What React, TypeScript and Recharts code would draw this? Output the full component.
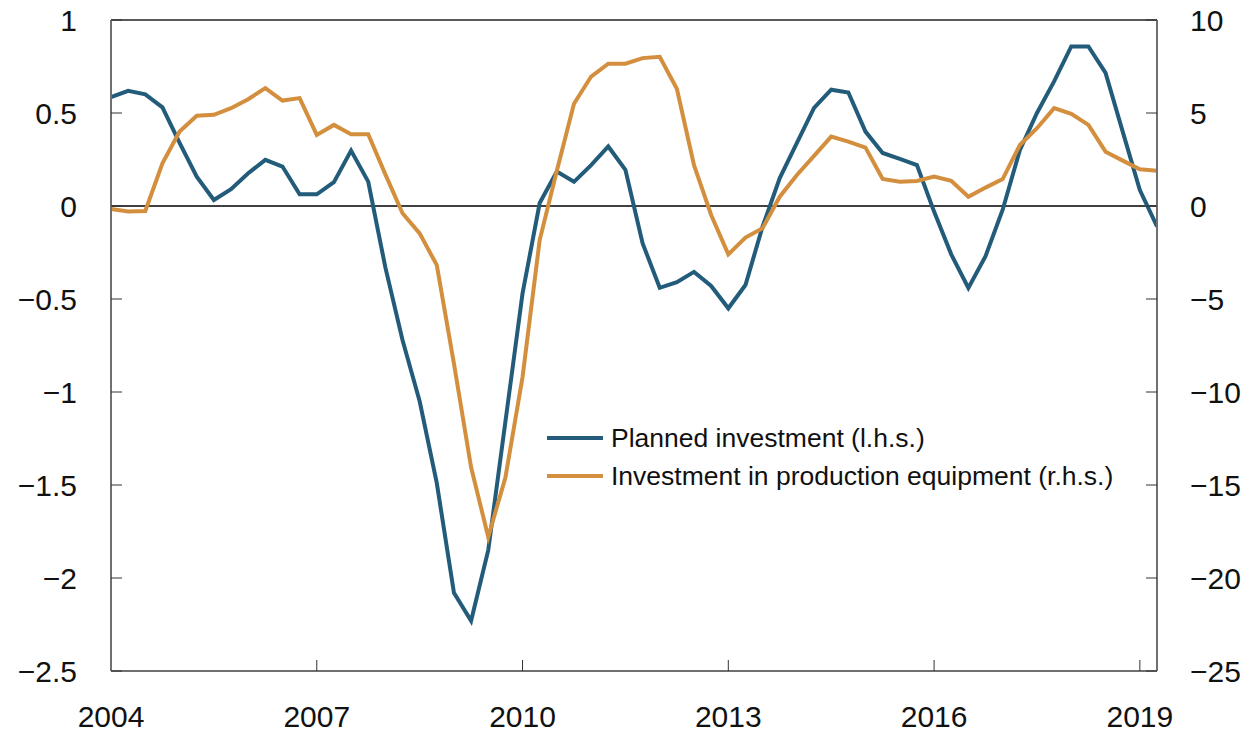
import { LineChart, Line, XAxis, YAxis, ReferenceLine, Legend } from "recharts";

// quarterly, 2004Q1 - 2019Q2
const START_YEAR = 2004;

const planned = [
  0.585, 0.619, 0.6, 0.53, 0.34, 0.158, 0.032, 0.09, 0.176, 0.248, 0.212, 0.063,
  0.063, 0.128, 0.298, 0.131, -0.33, -0.72, -1.05, -1.49, -2.08, -2.23, -1.85, -1.16,
  -0.47, 0.016, 0.185, 0.13, 0.22, 0.32, 0.194, -0.2, -0.44, -0.41, -0.354, -0.43,
  -0.55, -0.425, -0.11, 0.15, 0.34, 0.527, 0.625, 0.61, 0.4, 0.285, 0.253, 0.22,
  -0.03, -0.26, -0.44, -0.27, -0.02, 0.3, 0.5, 0.67, 0.858, 0.858, 0.716, 0.4,
  0.086, -0.11,
];

const equipment = [
  -0.16, -0.3, -0.27, 2.3, 4.0, 4.85, 4.9, 5.26, 5.74, 6.34, 5.67, 5.8,
  3.82, 4.36, 3.86, 3.86, 1.7, -0.39, -1.47, -3.18, -8.47, -14.05, -17.8, -14.6,
  -9.2, -1.83, 1.9, 5.5, 6.96, 7.65, 7.65, 7.95, 8.02, 6.3, 2.2, -0.48,
  -2.6, -1.7, -1.19, 0.5, 1.67, 2.69, 3.73, 3.46, 3.14, 1.45, 1.31, 1.35,
  1.58, 1.36, 0.5, 0.99, 1.45, 3.28, 4.18, 5.26, 4.95, 4.36, 2.92, 2.44,
  1.98, 1.9,
];

const seriesNames = [
  "Planned investment (l.h.s.)",
  "Investment in production equipment (r.h.s.)",
];

const yearTicks = [2004, 2007, 2010, 2013, 2016, 2019];
const leftTicks = [-2.5, -2, -1.5, -1, -0.5, 0, 0.5, 1];
const rightTicks = [-25, -20, -15, -10, -5, 0, 5, 10];

const BLUE = "#235B7A";
const ORANGE = "#D38F3E";
const AXIS = "#707070";
const FONT = "'Liberation Sans', Arial, Helvetica, sans-serif";

const data = planned.map((p, i) => ({
  t: START_YEAR + i / 4,
  planned: p,
  equipment: equipment[i],
}));

const fmt = (v: number) => String(v).replace("-", "\u2212");

const tickStyle = { fontSize: 30, fill: "#111", fontFamily: FONT };

const renderLegend = (props: any) => {
  const items = [...(props.payload || [])].sort(
    (a: any, b: any) => seriesNames.indexOf(a.value) - seriesNames.indexOf(b.value)
  );
  return (
    <div style={{ fontFamily: FONT, fontSize: 26.5, color: "#111" }}>
      {items.map((entry: any) => (
        <div
          key={entry.value}
          style={{ display: "flex", alignItems: "center", height: 38, whiteSpace: "nowrap" }}
        >
          <span
            style={{
              display: "inline-block",
              width: 56,
              height: 4,
              background: entry.color,
              marginRight: 8,
            }}
          />
          {entry.value}
        </div>
      ))}
    </div>
  );
};

export default function App() {
  return (
    <div style={{ width: 1246, height: 733 }}>
      <style>{`body{margin:0;background:#fff}`}</style>
      <LineChart
        width={1246}
        height={733}
        data={data}
        margin={{ top: 20, right: 0, bottom: 0, left: 0 }}
      >
        <XAxis
          dataKey="t"
          type="number"
          domain={[2004, 2019.25]}
          ticks={yearTicks}
          height={62}
          tickSize={-11}
          tickMargin={46}
          tick={tickStyle}
          axisLine={{ stroke: AXIS, strokeWidth: 2 }}
          tickLine={{ stroke: "#333", strokeWidth: 1 }}
          allowDataOverflow
        />
        <YAxis
          yAxisId="left"
          orientation="left"
          domain={[-2.5, 1]}
          ticks={leftTicks}
          width={111}
          tickSize={-11}
          tickMargin={45}
          tick={tickStyle}
          tickFormatter={fmt}
          axisLine={{ stroke: AXIS, strokeWidth: 2 }}
          tickLine={{ stroke: "#333", strokeWidth: 1 }}
          interval={0}
        />
        <YAxis
          yAxisId="right"
          orientation="right"
          domain={[-25, 10]}
          ticks={rightTicks}
          width={89}
          tickSize={-11}
          tickMargin={44}
          tick={tickStyle}
          tickFormatter={fmt}
          axisLine={{ stroke: AXIS, strokeWidth: 2 }}
          tickLine={{ stroke: "#333", strokeWidth: 1 }}
          interval={0}
        />
        <ReferenceLine yAxisId="left" y={1} stroke="#222" strokeWidth={1.5} />
        <ReferenceLine yAxisId="left" y={0} stroke="#000" strokeWidth={1.5} />
        <Line
          yAxisId="left"
          dataKey="planned"
          name={seriesNames[0]}
          stroke={BLUE}
          strokeWidth={4}
          dot={false}
          isAnimationActive={false}
        />
        <Line
          yAxisId="right"
          dataKey="equipment"
          name={seriesNames[1]}
          stroke={ORANGE}
          strokeWidth={4}
          dot={false}
          isAnimationActive={false}
        />
        <Legend
          layout="vertical"
          align="center"
          verticalAlign="middle"
          content={renderLegend}
          wrapperStyle={{ left: 547, top: 419, width: "auto" }}
        />
      </LineChart>
    </div>
  );
}
